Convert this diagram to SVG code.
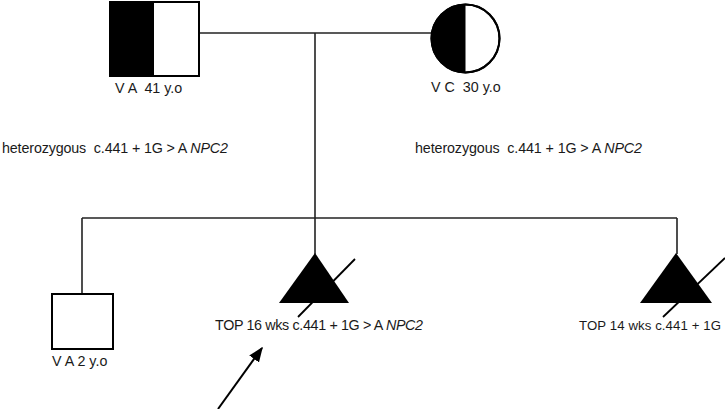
<svg xmlns="http://www.w3.org/2000/svg" width="725" height="409" viewBox="0 0 725 409">
<style>
text{font-family:"Liberation Sans",Arial,sans-serif;font-size:14.3px;fill:#1a1a1a;white-space:pre}
.i{font-style:italic}
.ln{stroke:#222;stroke-width:1.6;fill:none}
.sh{stroke:#000;stroke-width:2;fill:#fff}
.blk{fill:#000;stroke:none}
</style>
<defs>
<marker id="ah" viewBox="0 0 10 10" refX="9" refY="5" markerWidth="15" markerHeight="12" orient="auto" markerUnits="userSpaceOnUse" preserveAspectRatio="none">
<path d="M0,0 L10,5 L0,10 z" fill="#000"/>
</marker>
</defs>
<g id="connectors">
<line class="ln" x1="199" y1="33" x2="431" y2="33"/>
<line class="ln" x1="315" y1="33" x2="315" y2="218"/>
<line class="ln" x1="82" y1="218" x2="677" y2="218"/>
<line class="ln" x1="82" y1="218" x2="82" y2="294"/>
<line class="ln" x1="315" y1="218" x2="315" y2="254"/>
<line class="ln" x1="677" y1="218" x2="677" y2="254"/>
<line x1="218" y1="409" x2="262" y2="348" stroke="#000" stroke-width="2" marker-end="url(#ah)"/>
</g>
<g id="father">
<rect class="sh" x="110" y="2" width="89" height="74"/>
<rect class="blk" x="110" y="2" width="44" height="74"/>
<rect x="110" y="2" width="89" height="74" fill="none" stroke="#000" stroke-width="2"/>
<text x="115" y="93">V A  41 y.o</text>
</g>
<g id="mother">
<circle class="sh" cx="465.5" cy="38.5" r="34"/>
<path class="blk" d="M465.5,4.5 A34,34 0 0 0 465.5,72.5 Z"/>
<circle cx="465.5" cy="38.5" r="34" fill="none" stroke="#000" stroke-width="2"/>
<text x="431" y="92">V C  30 y.o</text>
</g>
<g id="father-note">
<text x="2" y="153" textLength="226" lengthAdjust="spacing">heterozygous  c.441 + 1G &gt; A <tspan class="i">NPC2</tspan></text>
</g>
<g id="mother-note">
<text x="415" y="153" textLength="227" lengthAdjust="spacing">heterozygous  c.441 + 1G &gt; A <tspan class="i">NPC2</tspan></text>
</g>
<g id="son">
<rect class="sh" x="52" y="294" width="61" height="55"/>
<text x="52" y="366">V A 2 y.o</text>
</g>
<g id="top16">
<polygon class="blk" points="315,253 349,303 279,303"/>
<line x1="355" y1="259" x2="298" y2="317" stroke="#000" stroke-width="1.8"/>
<text x="215" y="330" textLength="208" lengthAdjust="spacing">TOP 16 wks c.441 + 1G &gt; A <tspan class="i">NPC2</tspan></text>
</g>
<g id="top14">
<polygon class="blk" points="676,253 712,303 640,303"/>
<line x1="725" y1="258" x2="663" y2="317" stroke="#000" stroke-width="1.8"/>
<text x="579" y="330" style="font-size:13.2px" textLength="142" lengthAdjust="spacing">TOP 14 wks c.441 + 1G</text>
</g>
</svg>
